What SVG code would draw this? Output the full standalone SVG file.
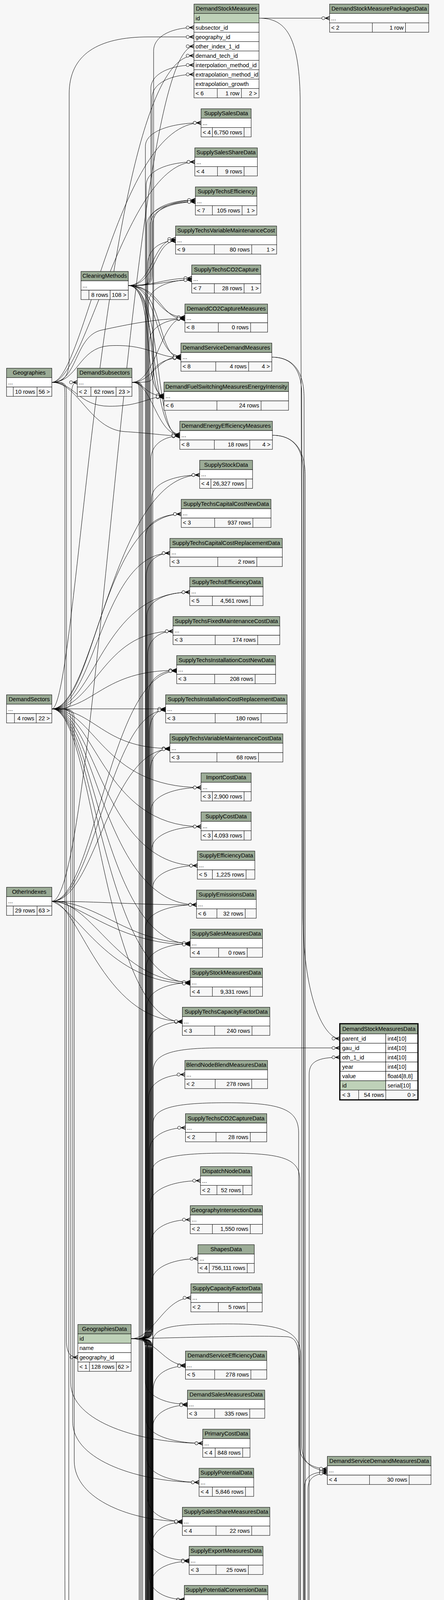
<svg xmlns="http://www.w3.org/2000/svg" width="1136" height="6871" viewBox="0 0 1136 6871">
<style>
text{font-family:"Liberation Sans",Arial,Helvetica,sans-serif;font-size:14.67px;fill:#000}
.c{text-anchor:middle}.n{text-anchor:end}
.h{fill:#9bab96;stroke:#000}.r{fill:#fff;stroke:#000}.p{fill:#bed1b8;stroke:#000}.f{fill:#f7f7f7;stroke:#000}
.d{fill:none;stroke:#000}.b{fill:none;stroke:#000;stroke-width:3}
#edges path{fill:none;stroke:#000;stroke-width:1;marker-end:url(#m)}
</style>
<defs>
<marker id="m" markerUnits="userSpaceOnUse" markerWidth="20" markerHeight="12" refX="19" refY="6" orient="auto" viewBox="0 0 20 12" overflow="visible">
<path d="M8 6L19 1.5M8 6H19M8 6L19 10.5" fill="none" stroke="#000" stroke-width="1.5"/>
<circle cx="3" cy="6" r="4" fill="#fff" stroke="#000"/>
</marker>
</defs>
<rect width="1136" height="6871" fill="#f7f7f7"/>
<g id="edges">
<path d="M662.7 46.5L843.3 46.5"/>
<path d="M662.7 46.5C730 46.5 765 90 768 250L775 2350C778 2560 830 2658.7 869.4 2658.7"/>
<path d="M335.4 3427C392 3427 392 3427 392 3387L392 2742C392 2702 430 2682.7 560 2682.7L869.4 2682.7"/>
<path d="M695.5 914.3C745 914.3 772 945 772 1010L772 3700C772 3745 800 3764 837.5 3764"/>
<path d="M697 1114.3C748 1114.3 776 1145 776 1210L776 5560C776 5605 800 5624 835.3 5624"/>
<path d="M695.5 914.3C750 914.3 778 950 778 1020L778 6110C778 6150 795 6168 821.6 6168"/>
<path d="M697 1114.3C752 1114.3 781 1150 781 1220L781 6235C781 6275 795 6292 820.8 6292"/>
<path d="M335.4 3427C450 3425 650 3418 735 3422C760 3424 766 3450 766 3500L766 3700C766 3742 800 3760 837.5 3760"/>
<path d="M335.4 5194.5C390 5194.5 390 5194.5 390 5154.5L390 3440C390 3405 420 3392 520 3390C700 3386 769 3395 769 3470L769 5560C769 5600 800 5620 835.3 5620"/>
<path d="M335.4 5194.5C391 5194.5 391 5194.5 391 5154.5L391 2880C391 2840 430 2823 580 2823C720 2823 764 2840 764 2900L764 6100C764 6145 795 6164 821.6 6164"/>
<path d="M335.4 3427C389 3427 389 3427 389 3387L389 3000C389 2968 430 2952 580 2952C720 2952 767 2965 767 3020L767 6230C767 6270 795 6288 820.8 6288"/>
<path d="M335.4 3427C377 3427 377 3427 377 3467L377 6397C377 6452 477 6467 572 6467C668 6467 768 6452 768 6397L768 6336C768 6306 790 6296 820.8 6296"/>
<path d="M335.4 5194.5C382 5194.5 382 5194.5 382 5234.5L382 6444C382 6499 482 6514 572 6514C671 6514 771 6499 771 6444L771 6340C771 6310 792 6300 820.8 6300"/>
<path d="M335.4 5194.5C385 5194.5 385 5194.5 385 5234.5L385 6448C385 6503 485 6518 572 6518C674 6518 774 6503 774 6448L774 6212C774 6182 794 6172 821.6 6172"/>
<path d="M335.4 3427C386 3427 386 3427 386 3467L386 6495C386 6550 486 6565 572 6565C676 6565 776 6550 776 6495L776 5670C776 5640 800 5630 835.3 5630"/>
<path d="M335.4 5194.5C389 5194.5 389 5194.5 389 5234.5L389 6500C389 6555 489 6570 572 6570C679 6570 779 6555 779 6500L779 3808C779 3778 802 3768 837.5 3768"/>
<path d="M335.4 3427C388 3427 388 3427 388 3467L388 6534C388 6589 488 6604 572 6604C682 6604 782 6589 782 6534L782 6216C782 6186 800 6176 821.6 6176"/>
<path d="M335.4 5194.5C391 5194.5 391 5194.5 391 5234.5L391 6541C391 6596 491 6611 572 6611C685 6611 785 6596 785 6541L785 5674C785 5644 805 5634 835.3 5634"/>
<path d="M335.4 3427C380 3427 380 3427 380 3467L380 6650C380 6720 500 6795 572 6815C650 6795 788 6720 788 6650L788 3812C788 3782 808 3772 837.5 3772"/>
<path d="M335.4 5194.5C383 5194.5 383 5194.5 383 5234.5L383 6655C383 6725 503 6802 572 6822C653 6802 791 6725 791 6655L791 2750C791 2717 815 2706.7 869.4 2706.7"/>
<path d="M335.4 3427C372 3427 372 3427 372 3387L372 374.5C372 334.5 443 314.5 514.4 314.5"/>
<path d="M335.4 3427C374 3427 374 3427 374 3387L374 474.5C374 434.5 436 414.5 498.4 414.5"/>
<path d="M335.4 3427C376 3427 376 3427 376 3387L376 576C376 536 438 516 499.9 516"/>
<path d="M335.4 3427C378 3427 378 3427 378 3387L378 676C378 636 414 616 449.2 616"/>
<path d="M335.4 3427C380 3427 380 3427 380 3387L380 776C380 736 435 716 490.5 716"/>
<path d="M335.4 3427C382 3427 382 3427 382 3387L382 876C382 836 428 816 473.1 816"/>
<path d="M335.4 3427C384 3427 384 3427 384 3387L384 976C384 936 423 916 462.9 916"/>
<path d="M335.4 3427C386 3427 386 3427 386 3387L386 1176C386 1136 423 1116 460 1116"/>
<path d="M335.4 3427C388 3427 388 3427 388 3387L388 1276C388 1236 449 1216 510.8 1216"/>
<path d="M335.4 3427C372 3427 372 3427 372 3387L372 1376C372 1336 418 1316 463.7 1316"/>
<path d="M335.4 3427C374 3427 374 3427 374 3387L374 1476C374 1436 404 1416 434.7 1416"/>
<path d="M335.4 3427C376 3427 376 3427 376 3387L376 1576C376 1536 431 1516 485.4 1516"/>
<path d="M335.4 3427C378 3427 378 3427 378 3387L378 1676C378 1636 410 1616 442.7 1616"/>
<path d="M335.4 3427C380 3427 380 3427 380 3387L380 1776C380 1736 416 1716 452 1716"/>
<path d="M335.4 3427C382 3427 382 3427 382 3387L382 1876C382 1836 403 1816 423.8 1816"/>
<path d="M335.4 3427C384 3427 384 3427 384 3387L384 1976C384 1936 409 1916 434.7 1916"/>
<path d="M335.4 3427C386 3427 386 3427 386 3387L386 2076C386 2036 450 2016 514.4 2016"/>
<path d="M335.4 3427C388 3427 388 3427 388 3387L388 2176C388 2136 451 2116 514.4 2116"/>
<path d="M335.4 3427C390 3427 390 3427 390 3387L390 2276C390 2236 447 2216 505 2216"/>
<path d="M335.4 3427C372 3427 372 3427 372 3387L372 2376C372 2336 437 2316 502.8 2316"/>
<path d="M335.4 3427C374 3427 374 3427 374 3387L374 2476C374 2436 430 2416 486.8 2416"/>
<path d="M335.4 3427C376 3427 376 3427 376 3387L376 2576C376 2536 431 2516 486.8 2516"/>
<path d="M335.4 3427C378 3427 378 3427 378 3387L378 2676C378 2636 422 2616 466.6 2616"/>
<path d="M335.4 3427C380 3427 380 3427 380 3387L380 2810.8C380 2770.8 426 2750.8 473 2750.8"/>
<path d="M335.4 3427C382 3427 382 3427 382 3387L382 2947C382 2907 428 2887 474.5 2887"/>
<path d="M335.4 3427C384 3427 384 3427 384 3387L384 3082.5C384 3042.5 448 3022.5 513 3022.5"/>
<path d="M335.4 3427C386 3427 386 3427 386 3387L386 3182.4C386 3142.4 436 3122.4 486.8 3122.4"/>
<path d="M335.4 3427C388 3427 388 3427 388 3387L388 3282.4C388 3242.4 447 3222.4 506.4 3222.4"/>
<path d="M335.4 3427C392 3427 420 3322.4 488.3 3322.4"/>
<path d="M335.4 3427C400 3427 420 3494.8 474.5 3494.8"/>
<path d="M335.4 3427C372 3427 372 3427 372 3467L372 3534.8C372 3574.8 426 3594.8 479.6 3594.8"/>
<path d="M335.4 3427C374 3427 374 3427 374 3467L374 3634.8C374 3674.8 446 3694.8 518.7 3694.8"/>
<path d="M335.4 3427C376 3427 376 3427 376 3467L376 3734.8C376 3774.8 443 3794.8 509.3 3794.8"/>
<path d="M335.4 3427C378 3427 378 3427 378 3467L378 3834.7C378 3874.7 422 3894.7 466.6 3894.7"/>
<path d="M335.4 3427C380 3427 380 3427 380 3467L380 3934.7C380 3974.7 432 3994.7 484 3994.7"/>
<path d="M335.4 3427C382 3427 382 3427 382 3467L382 4034.7C382 4074.7 427 4094.7 471.6 4094.7"/>
<path d="M335.4 3427C384 3427 384 3427 384 3467L384 4132C384 4172 430 4192 476 4192"/>
<path d="M335.4 3427C386 3427 386 3427 386 3467L386 4232C386 4272 449 4292 511.5 4292"/>
<path d="M335.4 3427C388 3427 388 3427 388 3467L388 4332C388 4372 414 4392 439 4392"/>
<path d="M335.4 3427C390 3427 390 3427 390 3467L390 4432C390 4472 397 4492 403.5 4492"/>
<path d="M335.4 3427C372 3427 372 3427 372 3467L372 4532C372 4572 402 4592 431.8 4592"/>
<path d="M335.4 3427C374 3427 374 3427 374 3467L374 4632C374 4672 443 4692 511.5 4692"/>
<path d="M335.4 3427C376 3427 376 3427 376 3467L376 4732C376 4772 421 4792 466.6 4792"/>
<path d="M335.4 3427C378 3427 378 3427 378 3467L378 4832C378 4872 418 4892 458.6 4892"/>
<path d="M335.4 3427C380 3427 380 3427 380 3467L380 4932C380 4972 404 4992 428.9 4992"/>
<path d="M335.4 3427C382 3427 382 3427 382 3467L382 5032C382 5072 409 5092 435.4 5092"/>
<path d="M335.4 3427C384 3427 384 3427 384 3467L384 5132C384 5172 421 5192 458.6 5192"/>
<path d="M335.4 3427C386 3427 386 3427 386 3467L386 5232C386 5272 417 5292 447 5292"/>
<path d="M335.4 3427C388 3427 388 3427 388 3467L388 5332C388 5372 403 5392 417.3 5392"/>
<path d="M335.4 3427C390 3427 390 3427 390 3467L390 5432C390 5472 427 5492 463.7 5492"/>
<path d="M335.4 3427C372 3427 372 3427 372 3467L372 5532C372 5572 415 5592 458.6 5592"/>
<path d="M335.4 3427C374 3427 374 3427 374 3467L374 5632C374 5672 404 5692 433.2 5692"/>
<path d="M335.4 3427C376 3427 376 3427 376 3467L376 5732C376 5772 425 5792 473 5792"/>
<path d="M335.4 3427C378 3427 378 3427 378 3467L378 5832C378 5872 405 5892 431.8 5892"/>
<path d="M335.4 3427C380 3427 380 3427 380 3467L380 5932C380 5972 391 5992 402.8 5992"/>
<path d="M335.4 3427C382 3427 382 3427 382 3467L382 6032C382 6072 410 6092 437.6 6092"/>
<path d="M335.4 3427C384 3427 384 3427 384 3467L384 6132C384 6172 396 6192 407.9 6192"/>
<path d="M335.4 3427C386 3427 386 3427 386 3467L386 6232C386 6272 430 6292 474.5 6292"/>
<path d="M335.4 3427C388 3427 388 3427 388 3467L388 6332C388 6372 448 6392 507.9 6392"/>
<path d="M335.4 5194.5C391 5194.5 391 5194.5 391 5154.5L391 573C391 533 445 513 499.9 513"/>
<path d="M335.4 5194.5C392 5194.5 392 5194.5 392 5154.5L392 3557C392 3517 433 3497 474.5 3497"/>
<path d="M335.4 5194.5C390 5194.5 390 5194.5 390 5154.5L390 3657C390 3617 435 3597 479.6 3597"/>
<path d="M335.4 5194.5C388 5194.5 388 5194.5 388 5154.5L388 3957C388 3917 427 3897 466.6 3897"/>
<path d="M335.4 5194.5C386 5194.5 386 5194.5 386 5154.5L386 4057C386 4017 435 3997 484 3997"/>
<path d="M335.4 5194.5C385 5194.5 385 5194.5 385 5154.5L385 4157C385 4117 428 4097 471.6 4097"/>
<path d="M335.4 5194.5C383 5194.5 383 5194.5 383 5154.5L383 4257C383 4217 430 4197 476 4197"/>
<path d="M335.4 5194.5C381 5194.5 381 5194.5 381 5154.5L381 4357C381 4317 446 4297 511.5 4297"/>
<path d="M335.4 5194.5C379 5194.5 379 5194.5 379 5154.5L379 4457C379 4417 409 4397 439 4397"/>
<path d="M335.4 5194.5C377 5194.5 377 5194.5 377 5154.5L377 4455C377 4415 408 4395 439 4395"/>
<path d="M335.4 5194.5C391 5194.5 391 5194.5 391 5154.5L391 4557C391 4517 397 4497 403.5 4497"/>
<path d="M335.4 5194.5C389 5194.5 389 5194.5 389 5154.5L389 4555C389 4515 396 4495 403.5 4495"/>
<path d="M335.4 5194.5C387 5194.5 387 5194.5 387 5154.5L387 4657C387 4617 409 4597 431.8 4597"/>
<path d="M335.4 5194.5C385 5194.5 385 5194.5 385 5154.5L385 4655C385 4615 408 4595 431.8 4595"/>
<path d="M335.4 5194.5C383 5194.5 383 5194.5 383 5154.5L383 4757C383 4717 447 4697 511.5 4697"/>
<path d="M335.4 5194.5C381 5194.5 381 5194.5 381 5154.5L381 4857C381 4817 424 4797 466.6 4797"/>
<path d="M335.4 5194.5C379 5194.5 379 5194.5 379 5154.5L379 4855C379 4815 423 4795 466.6 4795"/>
<path d="M335.4 5194.5C377 5194.5 377 5194.5 377 5154.5L377 4957C377 4917 418 4897 458.6 4897"/>
<path d="M335.4 5194.5C375 5194.5 375 5194.5 375 5154.5L375 4955C375 4915 417 4895 458.6 4895"/>
<path d="M335.4 5194.5C373 5194.5 373 5194.5 373 5154.5L373 5057C373 5017 401 4997 428.9 4997"/>
<path d="M335.4 5194.5C390 5194.5 400 5097 435.4 5097"/>
<path d="M335.4 5194.5C390 5194.5 400 5197 458.6 5197"/>
<path d="M335.4 5194.5C395 5190 410 5190 458.6 5190"/>
<path d="M335.4 5194.5C390 5194.5 400 5297 447 5297"/>
<path d="M335.4 5194.5C392 5194.5 392 5194.5 392 5234.5L392 5337C392 5377 405 5397 417.3 5397"/>
<path d="M335.4 5194.5C390 5194.5 390 5194.5 390 5234.5L390 5335C390 5375 404 5395 417.3 5395"/>
<path d="M335.4 5194.5C388 5194.5 388 5194.5 388 5234.5L388 5437C388 5477 426 5497 463.7 5497"/>
<path d="M335.4 5194.5C386 5194.5 386 5194.5 386 5234.5L386 5435C386 5475 425 5495 463.7 5495"/>
<path d="M335.4 5194.5C384 5194.5 384 5194.5 384 5234.5L384 5537C384 5577 421 5597 458.6 5597"/>
<path d="M335.4 5194.5C382 5194.5 382 5194.5 382 5234.5L382 5535C382 5575 420 5595 458.6 5595"/>
<path d="M335.4 5194.5C380 5194.5 380 5194.5 380 5234.5L380 5637C380 5677 407 5697 433.2 5697"/>
<path d="M335.4 5194.5C378 5194.5 378 5194.5 378 5234.5L378 5737C378 5777 426 5797 473 5797"/>
<path d="M335.4 5194.5C376 5194.5 376 5194.5 376 5234.5L376 5735C376 5775 425 5795 473 5795"/>
<path d="M335.4 5194.5C374 5194.5 374 5194.5 374 5234.5L374 5837C374 5877 403 5897 431.8 5897"/>
<path d="M335.4 5194.5C392 5194.5 392 5194.5 392 5234.5L392 5937C392 5977 397 5997 402.8 5997"/>
<path d="M335.4 5194.5C390 5194.5 390 5194.5 390 5234.5L390 6037C390 6077 414 6097 437.6 6097"/>
<path d="M335.4 5194.5C388 5194.5 388 5194.5 388 5234.5L388 6137C388 6177 398 6197 407.9 6197"/>
<path d="M335.4 5194.5C386 5194.5 386 5194.5 386 5234.5L386 6237C386 6277 430 6297 474.5 6297"/>
<path d="M335.4 5194.5C384 5194.5 384 5194.5 384 5234.5L384 6239C384 6279 429 6299 474.5 6299"/>
<path d="M335.4 5194.5C382 5194.5 382 5194.5 382 5234.5L382 6337C382 6377 445 6397 507.9 6397"/>
<path d="M335.4 5194.5C380 5194.5 380 5194.5 380 5234.5L380 6339C380 6379 444 6399 507.9 6399"/>
<path d="M337.6 978.7C356 978.7 356 978.7 356 1018.7L356 4136C356 4176 416 4196 476 4196"/>
<path d="M337.6 978.7C359 978.7 359 978.7 359 1018.7L359 4236C359 4276 435 4296 511.5 4296"/>
<path d="M337.6 978.7C362 978.7 362 978.7 362 1018.7L362 4636C362 4676 437 4696 511.5 4696"/>
<path d="M337.6 978.7C365 978.7 365 978.7 365 1018.7L365 6236C365 6276 420 6296 474.5 6296"/>
<path d="M337.6 978.7C393 978.7 393 978.7 393 938.7L393 130.5C393 90.5 444 70.5 496.3 70.5"/>
<path d="M337.6 978.7C400 978.7 410 813 473.1 813"/>
<path d="M337.6 978.7C390 978.7 400 913 462.9 913"/>
<path d="M337.6 978.7C370 978.7 370 1013 419.5 1013"/>
<path d="M337.6 978.7C390 978.7 400 1113 460 1113"/>
<path d="M328.2 730.9C386 730.9 386 730.9 386 690.9L386 226.5C386 186.5 441 166.5 496.3 166.5"/>
<path d="M328.2 730.9C389 730.9 389 730.9 389 690.9L389 250.5C389 210.5 443 190.5 496.3 190.5"/>
<path d="M328.2 730.9C381 730.9 381 730.9 381 690.9L381 572C381 532 440 512 499.9 512"/>
<path d="M328.2 730.9C384 730.9 384 730.9 384 690.9L384 577C384 537 442 517 499.9 517"/>
<path d="M328.2 730.9C390 730.9 390 612 449.2 612"/>
<path d="M328.2 730.9C400 730.9 395 617 449.2 617"/>
<path d="M328.2 730.9C400 730.9 420 712 490.5 712"/>
<path d="M328.2 730.9C410 730.9 430 717 490.5 717"/>
<path d="M328.2 730.9C400 730.9 400 812 473.1 812"/>
<path d="M328.2 730.9C410 730.9 410 817 473.1 817"/>
<path d="M328.2 730.9C410 730.9 390 912 462.9 912"/>
<path d="M328.2 730.9C420 730.9 400 917 462.9 917"/>
<path d="M328.2 730.9C400 730.9 360 1012 419.5 1012"/>
<path d="M328.2 730.9C410 730.9 370 1017 419.5 1017"/>
<path d="M328.2 730.9C410 730.9 380 1112 460 1112"/>
<path d="M328.2 730.9C420 730.9 390 1117 460 1117"/>
<path d="M132.6 978.7C165 978.7 177 960 177 920L177 240C177 140 250 94.5 380 94.5L496.3 94.5"/>
<path d="M132.6 978.7C215 978.7 300 314.5 514.4 314.5"/>
<path d="M132.6 978.7C220 978.7 320 414.5 498.4 414.5"/>
<path d="M132.6 978.7C200 978.7 190 860 260 845C330 830 400 815.5 473.1 815.5"/>
<path d="M132.6 978.7C200 978.7 200 890 280 885C380 880 400 915.5 462.9 915.5"/>
<path d="M132.6 978.7C190 978.7 200 1040 280 1040C360 1040 380 1015.5 419.5 1015.5"/>
<path d="M132.6 978.7C200 978.7 230 1100 320 1105C400 1110 420 1115.5 460 1115.5"/>
<path d="M132.6 978.7C170 978.7 170 978.7 170 1018.7L170 3430C170 3465 180 3474.7 199.2 3474.7"/>
<path d="M132.6 978.7C166 978.7 166 978.7 166 1018.7L166 4000C166 5000 228 5800 228 6300C228 6600 186 6700 186 6781C250 6700 400 6686.5 516.6 6686.5"/>
<path d="M132.6 1814.7C182 1814.7 182 1814.7 182 1774.7L182 1030C182 990 186 978.7 197.8 978.7"/>
<path d="M132.6 1814.7C200 1814.7 260 142.5 496.3 142.5"/>
<path d="M132.6 1814.7C243 1814.7 290 1216 510.8 1216"/>
<path d="M132.6 1814.7C243 1814.7 260 1316 463.7 1316"/>
<path d="M132.6 1814.7C243 1814.7 260 1416 434.7 1416"/>
<path d="M132.6 1814.7C243 1814.7 260 1516 485.4 1516"/>
<path d="M132.6 1814.7C243 1814.7 260 1616 442.7 1616"/>
<path d="M132.6 1814.7C243 1814.7 260 1716 452 1716"/>
<path d="M132.6 1814.7L423.8 1814.7"/>
<path d="M132.6 1814.7C243 1814.7 260 1916 434.7 1916"/>
<path d="M132.6 1814.7C243 1814.7 260 2016 514.4 2016"/>
<path d="M132.6 1814.7C243 1814.7 260 2116 514.4 2116"/>
<path d="M132.6 1814.7C243 1814.7 260 2216 505 2216"/>
<path d="M132.6 1814.7C243 1814.7 260 2316 502.8 2316"/>
<path d="M132.6 1814.7C243 1814.7 260 2416 486.8 2416"/>
<path d="M132.6 1814.7C243 1814.7 260 2516 486.8 2516"/>
<path d="M132.6 1814.7C243 1814.7 260 2616 466.6 2616"/>
<path d="M132.6 1814.7C181 1814.7 181 1814.7 181 1854.7L181 3540C181 3640 360 3694.8 518.7 3694.8"/>
<path d="M132.6 1814.7C186 1814.7 186 1814.7 186 1854.7L186 3640C186 3740 360 3794.8 509.3 3794.8"/>
<path d="M132.6 1814.7C190 1814.7 190 1814.7 190 1854.7L190 3740C190 3840 340 3894.7 466.6 3894.7"/>
<path d="M132.6 2307.4C176 2307.4 176 2307.4 176 2347.4L176 5190C176 5230 182 5242.5 199.2 5242.5"/>
<path d="M132.6 2307.4C250 2307.4 330 118.5 496.3 118.5"/>
<path d="M132.6 2307.4C243 2307.4 280 1718 452 1718"/>
<path d="M132.6 2307.4C243 2307.4 280 1818 423.8 1818"/>
<path d="M132.6 2307.4C243 2307.4 280 1918 434.7 1918"/>
<path d="M132.6 2307.4C250 2307.4 350 2316.5 502.8 2316.5"/>
<path d="M132.6 2307.4C250 2307.4 330 2414 486.8 2414"/>
<path d="M132.6 2307.4C200 2307.4 300 2418 486.8 2418"/>
<path d="M132.6 2307.4C240 2307.4 300 2514 486.8 2514"/>
<path d="M132.6 2307.4C200 2330 280 2518 486.8 2518"/>
<path d="M132.6 2307.4C200 2307.4 260 2614.6 466.6 2614.6"/>
</g>
<g id="nodes">
<g id="DemandStockMeasures" transform="translate(496.3 10.5)"><rect class="h" width="166.4" height="24"/><rect class="p" y="24" width="166.4" height="24"/><rect class="r" y="48" width="166.4" height="24"/><rect class="r" y="72" width="166.4" height="24"/><rect class="r" y="96" width="166.4" height="24"/><rect class="r" y="120" width="166.4" height="24"/><rect class="r" y="144" width="166.4" height="24"/><rect class="r" y="168" width="166.4" height="24"/><rect class="r" y="192" width="166.4" height="24"/><rect class="f" y="216" width="166.4" height="24"/><path class="d" d="M59.7 216v24M121.4 216v24"/><text class="c" x="83.2" y="16.5">DemandStockMeasures</text><text x="4" y="41">id</text><text x="4" y="65">subsector_id</text><text x="4" y="89">geography_id</text><text x="4" y="113">other_index_1_id</text><text x="4" y="137">demand_tech_id</text><text x="4" y="161">interpolation_method_id</text><text x="4" y="185">extrapolation_method_id</text><text x="4" y="209">extrapolation_growth</text><text x="4" y="233">&lt; 6</text><text class="n" x="116.4" y="233">1 row</text><text class="n" x="161.4" y="233">2 &gt;</text></g>
<g id="DemandStockMeasurePackagesData" transform="translate(843.3 10.5)"><rect class="h" width="253.6" height="24"/><rect class="r" y="24" width="253.6" height="24"/><rect class="f" y="48" width="253.6" height="24"/><path class="d" d="M109.4 48v24M194.2 48v24"/><text class="c" x="126.8" y="16.5">DemandStockMeasurePackagesData</text><text x="4" y="41">...</text><text x="4" y="65">&lt; 2</text><text class="n" x="189.2" y="65">1 row</text></g>
<g id="SupplySalesData" transform="translate(514.4 278.5)"><rect class="h" width="128.2" height="24"/><rect class="r" y="24" width="128.2" height="24"/><rect class="f" y="48" width="128.2" height="24"/><path class="d" d="M29 48v24M110.1 48v24"/><text class="c" x="64.1" y="16.5">SupplySalesData</text><text x="4" y="41">...</text><text x="4" y="65">&lt; 4</text><text class="n" x="105.1" y="65">6,750 rows</text></g>
<g id="SupplySalesShareData" transform="translate(498.4 378.5)"><rect class="h" width="160.1" height="24"/><rect class="r" y="24" width="160.1" height="24"/><rect class="f" y="48" width="160.1" height="24"/><path class="d" d="M58 48v24M126.1 48v24"/><text class="c" x="80" y="16.5">SupplySalesShareData</text><text x="4" y="41">...</text><text x="4" y="65">&lt; 4</text><text class="n" x="121.1" y="65">9 rows</text></g>
<g id="SupplyTechsEfficiency" transform="translate(499.9 478.5)"><rect class="h" width="157.2" height="24"/><rect class="r" y="24" width="157.2" height="24"/><rect class="f" y="48" width="157.2" height="24"/><path class="d" d="M43.5 48v24M119.5 48v24"/><text class="c" x="78.6" y="16.5">SupplyTechsEfficiency</text><text x="4" y="41">...</text><text x="4" y="65">&lt; 7</text><text class="n" x="114.5" y="65">105 rows</text><text class="n" x="152.2" y="65">1 &gt;</text></g>
<g id="SupplyTechsVariableMaintenanceCost" transform="translate(449.2 578.5)"><rect class="h" width="258.6" height="24"/><rect class="r" y="24" width="258.6" height="24"/><rect class="f" y="48" width="258.6" height="24"/><path class="d" d="M99.2 48v24M194.8 48v24"/><text class="c" x="129.3" y="16.5">SupplyTechsVariableMaintenanceCost</text><text x="4" y="41">...</text><text x="4" y="65">&lt; 9</text><text class="n" x="189.8" y="65">80 rows</text><text class="n" x="253.6" y="65">1 &gt;</text></g>
<g id="CleaningMethods" transform="translate(207.2 694.9)"><rect class="h" width="121" height="24"/><rect class="r" y="24" width="121" height="24"/><rect class="f" y="48" width="121" height="24"/><path class="d" d="M20.3 48v24M74.6 48v24"/><text class="c" x="60.5" y="16.5">CleaningMethods</text><text x="4" y="41">...</text><text class="n" x="69.6" y="65">8 rows</text><text class="n" x="116" y="65">108 &gt;</text></g>
<g id="SupplyTechsCO2Capture" transform="translate(490.5 678.3)"><rect class="h" width="176.7" height="24"/><rect class="r" y="24" width="176.7" height="24"/><rect class="f" y="48" width="176.7" height="24"/><path class="d" d="M57.9 48v24M134 48v24"/><text class="c" x="88.4" y="16.5">SupplyTechsCO2Capture</text><text x="4" y="41">...</text><text x="4" y="65">&lt; 7</text><text class="n" x="129" y="65">28 rows</text><text class="n" x="171.7" y="65">1 &gt;</text></g>
<g id="DemandCO2CaptureMeasures" transform="translate(473.1 778.3)"><rect class="h" width="211.5" height="24"/><rect class="r" y="24" width="211.5" height="24"/><rect class="f" y="48" width="211.5" height="24"/><path class="d" d="M85.5 48v24M168.1 48v24"/><text class="c" x="105.8" y="16.5">DemandCO2CaptureMeasures</text><text x="4" y="41">...</text><text x="4" y="65">&lt; 8</text><text class="n" x="163.1" y="65">0 rows</text></g>
<g id="DemandServiceDemandMeasures" transform="translate(462.9 878.3)"><rect class="h" width="232.6" height="24"/><rect class="r" y="24" width="232.6" height="24"/><rect class="f" y="48" width="232.6" height="24"/><path class="d" d="M89.1 48v24M173.2 48v24"/><text class="c" x="116.3" y="16.5">DemandServiceDemandMeasures</text><text x="4" y="41">...</text><text x="4" y="65">&lt; 8</text><text class="n" x="168.2" y="65">4 rows</text><text class="n" x="227.6" y="65">4 &gt;</text></g>
<g id="Geographies" transform="translate(16.7 942.7)"><rect class="h" width="115.9" height="24"/><rect class="r" y="24" width="115.9" height="24"/><rect class="f" y="48" width="115.9" height="24"/><path class="d" d="M17.3 48v24M78.2 48v24"/><text class="c" x="58" y="16.5">Geographies</text><text x="4" y="41">...</text><text class="n" x="73.2" y="65">10 rows</text><text class="n" x="110.9" y="65">56 &gt;</text></g>
<g id="DemandSubsectors" transform="translate(197.8 942.7)"><rect class="h" width="139.8" height="24"/><rect class="r" y="24" width="139.8" height="24"/><rect class="f" y="48" width="139.8" height="24"/><path class="d" d="M34.8 48v24M99.2 48v24"/><text class="c" x="69.9" y="16.5">DemandSubsectors</text><text x="4" y="41">...</text><text x="4" y="65">&lt; 2</text><text class="n" x="94.2" y="65">62 rows</text><text class="n" x="134.8" y="65">23 &gt;</text></g>
<g id="DemandFuelSwitchingMeasuresEnergyIntensity" transform="translate(419.5 978.3)"><rect class="h" width="318.7" height="24"/><rect class="r" y="24" width="318.7" height="24"/><rect class="f" y="48" width="318.7" height="24"/><path class="d" d="M135.5 48v24M248.5 48v24"/><text class="c" x="159.4" y="16.5">DemandFuelSwitchingMeasuresEnergyIntensity</text><text x="4" y="41">...</text><text x="4" y="65">&lt; 6</text><text class="n" x="243.5" y="65">24 rows</text></g>
<g id="DemandEnergyEfficiencyMeasures" transform="translate(460 1078.3)"><rect class="h" width="237" height="24"/><rect class="r" y="24" width="237" height="24"/><rect class="f" y="48" width="237" height="24"/><path class="d" d="M88.4 48v24M179 48v24"/><text class="c" x="118.5" y="16.5">DemandEnergyEfficiencyMeasures</text><text x="4" y="41">...</text><text x="4" y="65">&lt; 8</text><text class="n" x="174" y="65">18 rows</text><text class="n" x="232" y="65">4 &gt;</text></g>
<g id="SupplyStockData" transform="translate(510.8 1178.3)"><rect class="h" width="135.4" height="24"/><rect class="r" y="24" width="135.4" height="24"/><rect class="f" y="48" width="135.4" height="24"/><path class="d" d="M28.9 48v24M118.8 48v24"/><text class="c" x="67.7" y="16.5">SupplyStockData</text><text x="4" y="41">...</text><text x="4" y="65">&lt; 4</text><text class="n" x="113.8" y="65">26,327 rows</text></g>
<g id="SupplyTechsCapitalCostNewData" transform="translate(463.7 1278.3)"><rect class="h" width="229.6" height="24"/><rect class="r" y="24" width="229.6" height="24"/><rect class="f" y="48" width="229.6" height="24"/><path class="d" d="M85.5 48v24M183.3 48v24"/><text class="c" x="114.8" y="16.5">SupplyTechsCapitalCostNewData</text><text x="4" y="41">...</text><text x="4" y="65">&lt; 3</text><text class="n" x="178.3" y="65">937 rows</text></g>
<g id="SupplyTechsCapitalCostReplacementData" transform="translate(434.7 1378.3)"><rect class="h" width="287.6" height="24"/><rect class="r" y="24" width="287.6" height="24"/><rect class="f" y="48" width="287.6" height="24"/><path class="d" d="M122.4 48v24M222.4 48v24"/><text class="c" x="143.8" y="16.5">SupplyTechsCapitalCostReplacementData</text><text x="4" y="41">...</text><text x="4" y="65">&lt; 3</text><text class="n" x="217.4" y="65">2 rows</text></g>
<g id="SupplyTechsEfficiencyData" transform="translate(485.4 1478.3)"><rect class="h" width="187.6" height="24"/><rect class="r" y="24" width="187.6" height="24"/><rect class="f" y="48" width="187.6" height="24"/><path class="d" d="M58 48v24M155 48v24"/><text class="c" x="93.8" y="16.5">SupplyTechsEfficiencyData</text><text x="4" y="41">...</text><text x="4" y="65">&lt; 5</text><text class="n" x="150" y="65">4,561 rows</text></g>
<g id="SupplyTechsFixedMaintenanceCostData" transform="translate(442.7 1578.3)"><rect class="h" width="273.1" height="24"/><rect class="r" y="24" width="273.1" height="24"/><rect class="f" y="48" width="273.1" height="24"/><path class="d" d="M107.9 48v24M216.6 48v24"/><text class="c" x="136.6" y="16.5">SupplyTechsFixedMaintenanceCostData</text><text x="4" y="41">...</text><text x="4" y="65">&lt; 3</text><text class="n" x="211.6" y="65">174 rows</text></g>
<g id="SupplyTechsInstallationCostNewData" transform="translate(452 1678.3)"><rect class="h" width="253" height="24"/><rect class="r" y="24" width="253" height="24"/><rect class="f" y="48" width="253" height="24"/><path class="d" d="M97.2 48v24M200.8 48v24"/><text class="c" x="126.5" y="16.5">SupplyTechsInstallationCostNewData</text><text x="4" y="41">...</text><text x="4" y="65">&lt; 3</text><text class="n" x="195.8" y="65">208 rows</text></g>
<g id="DemandSectors" transform="translate(16.7 1778.7)"><rect class="h" width="115.9" height="24"/><rect class="r" y="24" width="115.9" height="24"/><rect class="f" y="48" width="115.9" height="24"/><path class="d" d="M20.3 48v24M76 48v24"/><text class="c" x="58" y="16.5">DemandSectors</text><text x="4" y="41">...</text><text class="n" x="71" y="65">4 rows</text><text class="n" x="110.9" y="65">22 &gt;</text></g>
<g id="SupplyTechsInstallationCostReplacementData" transform="translate(423.8 1778.7)"><rect class="h" width="310.8" height="24"/><rect class="r" y="24" width="310.8" height="24"/><rect class="f" y="48" width="310.8" height="24"/><path class="d" d="M126.8 48v24M244.2 48v24"/><text class="c" x="155.4" y="16.5">SupplyTechsInstallationCostReplacementData</text><text x="4" y="41">...</text><text x="4" y="65">&lt; 3</text><text class="n" x="239.2" y="65">180 rows</text></g>
<g id="SupplyTechsVariableMaintenanceCostData" transform="translate(434.7 1878.7)"><rect class="h" width="289.1" height="24"/><rect class="r" y="24" width="289.1" height="24"/><rect class="f" y="48" width="289.1" height="24"/><path class="d" d="M120.3 48v24M226.7 48v24"/><text class="c" x="144.6" y="16.5">SupplyTechsVariableMaintenanceCostData</text><text x="4" y="41">...</text><text x="4" y="65">&lt; 3</text><text class="n" x="221.7" y="65">68 rows</text></g>
<g id="ImportCostData" transform="translate(514.4 1978.7)"><rect class="h" width="128.2" height="24"/><rect class="r" y="24" width="128.2" height="24"/><rect class="f" y="48" width="128.2" height="24"/><path class="d" d="M29 48v24M110.1 48v24"/><text class="c" x="64.1" y="16.5">ImportCostData</text><text x="4" y="41">...</text><text x="4" y="65">&lt; 3</text><text class="n" x="105.1" y="65">2,900 rows</text></g>
<g id="SupplyCostData" transform="translate(514.4 2078.7)"><rect class="h" width="128.2" height="24"/><rect class="r" y="24" width="128.2" height="24"/><rect class="f" y="48" width="128.2" height="24"/><path class="d" d="M29 48v24M110.1 48v24"/><text class="c" x="64.1" y="16.5">SupplyCostData</text><text x="4" y="41">...</text><text x="4" y="65">&lt; 3</text><text class="n" x="105.1" y="65">4,093 rows</text></g>
<g id="SupplyEfficiencyData" transform="translate(505 2178.7)"><rect class="h" width="147" height="24"/><rect class="r" y="24" width="147" height="24"/><rect class="f" y="48" width="147" height="24"/><path class="d" d="M38.4 48v24M124.6 48v24"/><text class="c" x="73.5" y="16.5">SupplyEfficiencyData</text><text x="4" y="41">...</text><text x="4" y="65">&lt; 5</text><text class="n" x="119.6" y="65">1,225 rows</text></g>
<g id="OtherIndexes" transform="translate(16.7 2271.4)"><rect class="h" width="115.9" height="24"/><rect class="r" y="24" width="115.9" height="24"/><rect class="f" y="48" width="115.9" height="24"/><path class="d" d="M17.3 48v24M78.2 48v24"/><text class="c" x="58" y="16.5">OtherIndexes</text><text x="4" y="41">...</text><text class="n" x="73.2" y="65">29 rows</text><text class="n" x="110.9" y="65">63 &gt;</text></g>
<g id="SupplyEmissionsData" transform="translate(502.8 2278.6)"><rect class="h" width="152.8" height="24"/><rect class="r" y="24" width="152.8" height="24"/><rect class="f" y="48" width="152.8" height="24"/><path class="d" d="M52.2 48v24M124.6 48v24"/><text class="c" x="76.4" y="16.5">SupplyEmissionsData</text><text x="4" y="41">...</text><text x="4" y="65">&lt; 6</text><text class="n" x="119.6" y="65">32 rows</text></g>
<g id="SupplySalesMeasuresData" transform="translate(486.8 2378.6)"><rect class="h" width="184.8" height="24"/><rect class="r" y="24" width="184.8" height="24"/><rect class="f" y="48" width="184.8" height="24"/><path class="d" d="M72.5 48v24M145.7 48v24"/><text class="c" x="92.4" y="16.5">SupplySalesMeasuresData</text><text x="4" y="41">...</text><text x="4" y="65">&lt; 4</text><text class="n" x="140.7" y="65">0 rows</text></g>
<g id="SupplyStockMeasuresData" transform="translate(486.8 2478.6)"><rect class="h" width="184.8" height="24"/><rect class="r" y="24" width="184.8" height="24"/><rect class="f" y="48" width="184.8" height="24"/><path class="d" d="M56.6 48v24M153.6 48v24"/><text class="c" x="92.4" y="16.5">SupplyStockMeasuresData</text><text x="4" y="41">...</text><text x="4" y="65">&lt; 4</text><text class="n" x="148.6" y="65">9,331 rows</text></g>
<g id="SupplyTechsCapacityFactorData" transform="translate(466.6 2578.6)"><rect class="h" width="223.8" height="24"/><rect class="r" y="24" width="223.8" height="24"/><rect class="f" y="48" width="223.8" height="24"/><path class="d" d="M82.6 48v24M178.2 48v24"/><text class="c" x="111.9" y="16.5">SupplyTechsCapacityFactorData</text><text x="4" y="41">...</text><text x="4" y="65">&lt; 3</text><text class="n" x="173.2" y="65">240 rows</text></g>
<g id="DemandStockMeasuresData" transform="translate(869.4 2620.7)"><rect class="h" width="200" height="26"/><rect class="r" y="26" width="117.6" height="24"/><rect class="r" x="117.6" y="26" width="82.4" height="24"/><rect class="r" y="50" width="117.6" height="24"/><rect class="r" x="117.6" y="50" width="82.4" height="24"/><rect class="r" y="74" width="117.6" height="24"/><rect class="r" x="117.6" y="74" width="82.4" height="24"/><rect class="r" y="98" width="117.6" height="24"/><rect class="r" x="117.6" y="98" width="82.4" height="24"/><rect class="r" y="122" width="117.6" height="24"/><rect class="r" x="117.6" y="122" width="82.4" height="24"/><rect class="p" y="146" width="117.6" height="24"/><rect class="r" x="117.6" y="146" width="82.4" height="24"/><rect class="f" y="170" width="200" height="25"/><path class="d" d="M48.3 170v25M117.6 170v25"/><rect class="b" width="200" height="195"/><text class="c" x="100" y="18">DemandStockMeasuresData</text><text x="6" y="43">parent_id</text><text x="122" y="43">int4[10]</text><text x="6" y="67">gau_id</text><text x="122" y="67">int4[10]</text><text x="6" y="91">oth_1_id</text><text x="122" y="91">int4[10]</text><text x="6" y="115">year</text><text x="122" y="115">int4[10]</text><text x="6" y="139">value</text><text x="122" y="139">float4[8,8]</text><text x="6" y="163">id</text><text x="122" y="163">serial[10]</text><text x="6" y="187">&lt; 3</text><text class="n" x="113" y="187">54 rows</text><text class="n" x="194" y="187">0 &gt;</text></g>
<g id="BlendNodeBlendMeasuresData" transform="translate(473 2714.8)"><rect class="h" width="211.6" height="24"/><rect class="r" y="24" width="211.6" height="24"/><rect class="f" y="48" width="211.6" height="24"/><path class="d" d="M77.6 48v24M171 48v24"/><text class="c" x="105.8" y="16.5">BlendNodeBlendMeasuresData</text><text x="4" y="41">...</text><text x="4" y="65">&lt; 2</text><text class="n" x="166" y="65">278 rows</text></g>
<g id="SupplyTechsCO2CaptureData" transform="translate(474.5 2851)"><rect class="h" width="208" height="24"/><rect class="r" y="24" width="208" height="24"/><rect class="f" y="48" width="208" height="24"/><path class="d" d="M78.3 48v24M165.9 48v24"/><text class="c" x="104" y="16.5">SupplyTechsCO2CaptureData</text><text x="4" y="41">...</text><text x="4" y="65">&lt; 2</text><text class="n" x="160.9" y="65">28 rows</text></g>
<g id="DispatchNodeData" transform="translate(513 2986.5)"><rect class="h" width="131.8" height="24"/><rect class="r" y="24" width="131.8" height="24"/><rect class="f" y="48" width="131.8" height="24"/><path class="d" d="M42 48v24M108.6 48v24"/><text class="c" x="65.9" y="16.5">DispatchNodeData</text><text x="4" y="41">...</text><text x="4" y="65">&lt; 2</text><text class="n" x="103.6" y="65">52 rows</text></g>
<g id="GeographyIntersectionData" transform="translate(486.8 3086.4)"><rect class="h" width="184.8" height="24"/><rect class="r" y="24" width="184.8" height="24"/><rect class="f" y="48" width="184.8" height="24"/><path class="d" d="M56.6 48v24M153.6 48v24"/><text class="c" x="92.4" y="16.5">GeographyIntersectionData</text><text x="4" y="41">...</text><text x="4" y="65">&lt; 2</text><text class="n" x="148.6" y="65">1,550 rows</text></g>
<g id="ShapesData" transform="translate(506.4 3186.4)"><rect class="h" width="144.2" height="24"/><rect class="r" y="24" width="144.2" height="24"/><rect class="f" y="48" width="144.2" height="24"/><path class="d" d="M29 48v24M126.1 48v24"/><text class="c" x="72.1" y="16.5">ShapesData</text><text x="4" y="41">...</text><text x="4" y="65">&lt; 4</text><text class="n" x="121.1" y="65">756,111 rows</text></g>
<g id="SupplyCapacityFactorData" transform="translate(488.3 3286.4)"><rect class="h" width="182.6" height="24"/><rect class="r" y="24" width="182.6" height="24"/><rect class="f" y="48" width="182.6" height="24"/><path class="d" d="M70.3 48v24M144.2 48v24"/><text class="c" x="91.3" y="16.5">SupplyCapacityFactorData</text><text x="4" y="41">...</text><text x="4" y="65">&lt; 2</text><text class="n" x="139.2" y="65">5 rows</text></g>
<g id="GeographiesData" transform="translate(199.2 3390.7)"><rect class="h" width="136.2" height="24"/><rect class="p" y="24" width="136.2" height="24"/><rect class="r" y="48" width="136.2" height="24"/><rect class="r" y="72" width="136.2" height="24"/><rect class="f" y="96" width="136.2" height="24"/><path class="d" d="M29.7 96v24M98.6 96v24"/><text class="c" x="68.1" y="16.5">GeographiesData</text><text x="4" y="41">id</text><text x="4" y="65">name</text><text x="4" y="89">geography_id</text><text x="4" y="113">&lt; 1</text><text class="n" x="93.6" y="113">128 rows</text><text class="n" x="131.2" y="113">62 &gt;</text></g>
<g id="DemandServiceEfficiencyData" transform="translate(474.5 3458.8)"><rect class="h" width="208" height="24"/><rect class="r" y="24" width="208" height="24"/><rect class="f" y="48" width="208" height="24"/><path class="d" d="M74.7 48v24M167.4 48v24"/><text class="c" x="104" y="16.5">DemandServiceEfficiencyData</text><text x="4" y="41">...</text><text x="4" y="65">&lt; 5</text><text class="n" x="162.4" y="65">278 rows</text></g>
<g id="DemandSalesMeasuresData" transform="translate(479.6 3558.8)"><rect class="h" width="197.8" height="24"/><rect class="r" y="24" width="197.8" height="24"/><rect class="f" y="48" width="197.8" height="24"/><path class="d" d="M69.6 48v24M159.4 48v24"/><text class="c" x="98.9" y="16.5">DemandSalesMeasuresData</text><text x="4" y="41">...</text><text x="4" y="65">&lt; 3</text><text class="n" x="154.4" y="65">335 rows</text></g>
<g id="PrimaryCostData" transform="translate(518.7 3658.8)"><rect class="h" width="121" height="24"/><rect class="r" y="24" width="121" height="24"/><rect class="f" y="48" width="121" height="24"/><path class="d" d="M31.9 48v24M102.2 48v24"/><text class="c" x="60.5" y="16.5">PrimaryCostData</text><text x="4" y="41">...</text><text x="4" y="65">&lt; 4</text><text class="n" x="97.2" y="65">848 rows</text></g>
<g id="DemandServiceDemandMeasuresData" transform="translate(837.5 3728.3)"><rect class="h" width="265.2" height="24"/><rect class="r" y="24" width="265.2" height="24"/><rect class="f" y="48" width="265.2" height="24"/><path class="d" d="M107.9 48v24M209.4 48v24"/><text class="c" x="132.6" y="16.5">DemandServiceDemandMeasuresData</text><text x="4" y="41">...</text><text x="4" y="65">&lt; 4</text><text class="n" x="204.4" y="65">30 rows</text></g>
<g id="SupplyPotentialData" transform="translate(509.3 3758.8)"><rect class="h" width="139.8" height="24"/><rect class="r" y="24" width="139.8" height="24"/><rect class="f" y="48" width="139.8" height="24"/><path class="d" d="M34.1 48v24M118.8 48v24"/><text class="c" x="69.9" y="16.5">SupplyPotentialData</text><text x="4" y="41">...</text><text x="4" y="65">&lt; 4</text><text class="n" x="113.8" y="65">5,846 rows</text></g>
<g id="SupplySalesShareMeasuresData" transform="translate(466.6 3858.7)"><rect class="h" width="223.8" height="24"/><rect class="r" y="24" width="223.8" height="24"/><rect class="f" y="48" width="223.8" height="24"/><path class="d" d="M86.2 48v24M177.4 48v24"/><text class="c" x="111.9" y="16.5">SupplySalesShareMeasuresData</text><text x="4" y="41">...</text><text x="4" y="65">&lt; 4</text><text class="n" x="172.4" y="65">22 rows</text></g>
<g id="SupplyExportMeasuresData" transform="translate(484 3958.7)"><rect class="h" width="189" height="24"/><rect class="r" y="24" width="189" height="24"/><rect class="f" y="48" width="189" height="24"/><path class="d" d="M68.8 48v24M151.4 48v24"/><text class="c" x="94.5" y="16.5">SupplyExportMeasuresData</text><text x="4" y="41">...</text><text x="4" y="65">&lt; 3</text><text class="n" x="146.4" y="65">25 rows</text></g>
<g id="SupplyPotentialConversionData" transform="translate(471.6 4058.7)"><rect class="h" width="213.8" height="24"/><rect class="r" y="24" width="213.8" height="24"/><rect class="f" y="48" width="213.8" height="24"/><path class="d" d="M81.2 48v24M169.6 48v24"/><text class="c" x="106.9" y="16.5">SupplyPotentialConversionData</text><text x="4" y="41">...</text><text x="4" y="65">&lt; 3</text><text class="n" x="164.6" y="65">33 rows</text></g>
<g id="DemandEnergyDemandsData" transform="translate(476 4158.7)"><rect class="h" width="205" height="24"/><rect class="r" y="24" width="205" height="24"/><rect class="f" y="48" width="205" height="24"/><path class="d" d="M63.7 48v24M171 48v24"/><text class="c" x="102.5" y="16.5">DemandEnergyDemandsData</text><text x="4" y="41">...</text><text x="4" y="65">&lt; 5</text><text class="n" x="166" y="65">94,945 rows</text></g>
<g id="DemandStockData" transform="translate(511.5 4258.7)"><rect class="h" width="133.3" height="24"/><rect class="r" y="24" width="133.3" height="24"/><rect class="f" y="48" width="133.3" height="24"/><path class="d" d="M31.9 48v24M115.9 48v24"/><text class="c" x="66.7" y="16.5">DemandStockData</text><text x="4" y="41">...</text><text x="4" y="65">&lt; 5</text><text class="n" x="110.9" y="65">1,687 rows</text></g>
<g id="DemandFuelSwitchingMeasuresCostData" transform="translate(439 4358.6)"><rect class="h" width="280.4" height="24"/><rect class="r" y="24" width="280.4" height="24"/><rect class="f" y="48" width="280.4" height="24"/><path class="d" d="M124 48v24M216 48v24"/><text class="c" x="140.2" y="16.5">DemandFuelSwitchingMeasuresCostData</text><text x="4" y="41">...</text><text x="4" y="65">&lt; 4</text><text class="n" x="211" y="65">1 row</text></g>
<g id="DemandFuelSwitchingMeasuresEnergyIntensityData" transform="translate(403.5 4458.6)"><rect class="h" width="350" height="24"/><rect class="r" y="24" width="350" height="24"/><rect class="f" y="48" width="350" height="24"/><path class="d" d="M150 48v24M271 48v24"/><text class="c" x="175" y="16.5">DemandFuelSwitchingMeasuresEnergyIntensityData</text><text x="4" y="41">...</text><text x="4" y="65">&lt; 4</text><text class="n" x="266" y="65">25 rows</text></g>
<g id="DemandFuelSwitchingMeasuresImpactData" transform="translate(431.8 4558.6)"><rect class="h" width="294.9" height="24"/><rect class="r" y="24" width="294.9" height="24"/><rect class="f" y="48" width="294.9" height="24"/><path class="d" d="M123.2 48v24M231.1 48v24"/><text class="c" x="147.5" y="16.5">DemandFuelSwitchingMeasuresImpactData</text><text x="4" y="41">...</text><text x="4" y="65">&lt; 4</text><text class="n" x="226.1" y="65">51 rows</text></g>
<g id="DemandSalesData" transform="translate(511.5 4658.6)"><rect class="h" width="133.3" height="24"/><rect class="r" y="24" width="133.3" height="24"/><rect class="f" y="48" width="133.3" height="24"/><path class="d" d="M31.9 48v24M115.9 48v24"/><text class="c" x="66.7" y="16.5">DemandSalesData</text><text x="4" y="41">...</text><text x="4" y="65">&lt; 5</text><text class="n" x="110.9" y="65">3,319 rows</text></g>
<g id="DemandTechsAuxEfficiencyData" transform="translate(466.6 4758.6)"><rect class="h" width="223.8" height="24"/><rect class="r" y="24" width="223.8" height="24"/><rect class="f" y="48" width="223.8" height="24"/><path class="d" d="M82.6 48v24M178.2 48v24"/><text class="c" x="111.9" y="16.5">DemandTechsAuxEfficiencyData</text><text x="4" y="41">...</text><text x="4" y="65">&lt; 4</text><text class="n" x="173.2" y="65">101 rows</text></g>
<g id="DemandTechsCapitalCostNewData" transform="translate(458.6 4858.6)"><rect class="h" width="241.2" height="24"/><rect class="r" y="24" width="241.2" height="24"/><rect class="f" y="48" width="241.2" height="24"/><path class="d" d="M84.8 48v24M194.2 48v24"/><text class="c" x="120.6" y="16.5">DemandTechsCapitalCostNewData</text><text x="4" y="41">...</text><text x="4" y="65">&lt; 4</text><text class="n" x="189.2" y="65">1,337 rows</text></g>
<g id="DemandTechsCapitalCostReplacementData" transform="translate(428.9 4958.5)"><rect class="h" width="299.9" height="24"/><rect class="r" y="24" width="299.9" height="24"/><rect class="f" y="48" width="299.9" height="24"/><path class="d" d="M129.7 48v24M232.5 48v24"/><text class="c" x="150" y="16.5">DemandTechsCapitalCostReplacementData</text><text x="4" y="41">...</text><text x="4" y="65">&lt; 4</text><text class="n" x="227.5" y="65">0 rows</text></g>
<g id="DemandTechsFixedMaintenanceCostData" transform="translate(435.4 5058.5)"><rect class="h" width="286.2" height="24"/><rect class="r" y="24" width="286.2" height="24"/><rect class="f" y="48" width="286.2" height="24"/><path class="d" d="M113.8 48v24M226 48v24"/><text class="c" x="143.1" y="16.5">DemandTechsFixedMaintenanceCostData</text><text x="4" y="41">...</text><text x="4" y="65">&lt; 4</text><text class="n" x="221" y="65">364 rows</text></g>
<g id="OtherIndexesData" transform="translate(199.2 5158.5)"><rect class="h" width="136.2" height="24"/><rect class="p" y="24" width="136.2" height="24"/><rect class="r" y="48" width="136.2" height="24"/><rect class="r" y="72" width="136.2" height="24"/><rect class="f" y="96" width="136.2" height="24"/><path class="d" d="M29.7 96v24M98.6 96v24"/><text class="c" x="68.1" y="16.5">OtherIndexesData</text><text x="4" y="41">id</text><text x="4" y="65">name</text><text x="4" y="89">other_index_id</text><text x="4" y="113">&lt; 1</text><text class="n" x="93.6" y="113">163 rows</text><text class="n" x="131.2" y="113">67 &gt;</text></g>
<g id="DemandTechsFuelSwitchCostData" transform="translate(458.6 5158.5)"><rect class="h" width="239.8" height="24"/><rect class="r" y="24" width="239.8" height="24"/><rect class="f" y="48" width="239.8" height="24"/><path class="d" d="M94.2 48v24M189.8 48v24"/><text class="c" x="119.9" y="16.5">DemandTechsFuelSwitchCostData</text><text x="4" y="41">...</text><text x="4" y="65">&lt; 4</text><text class="n" x="184.8" y="65">20 rows</text></g>
<g id="DemandTechsInstallationCostNewData" transform="translate(447 5258.5)"><rect class="h" width="264.4" height="24"/><rect class="r" y="24" width="264.4" height="24"/><rect class="f" y="48" width="264.4" height="24"/><path class="d" d="M103.6 48v24M210.1 48v24"/><text class="c" x="132.2" y="16.5">DemandTechsInstallationCostNewData</text><text x="4" y="41">...</text><text x="4" y="65">&lt; 4</text><text class="n" x="205.1" y="65">251 rows</text></g>
<g id="DemandTechsInstallationCostReplacementData" transform="translate(417.3 5358.4)"><rect class="h" width="322.4" height="24"/><rect class="r" y="24" width="322.4" height="24"/><rect class="f" y="48" width="322.4" height="24"/><path class="d" d="M139.8 48v24M249.2 48v24"/><text class="c" x="161.2" y="16.5">DemandTechsInstallationCostReplacementData</text><text x="4" y="41">...</text><text x="4" y="65">&lt; 4</text><text class="n" x="244.2" y="65">0 rows</text></g>
<g id="DemandTechsMainEfficiencyData" transform="translate(463.7 5458.4)"><rect class="h" width="229.6" height="24"/><rect class="r" y="24" width="229.6" height="24"/><rect class="f" y="48" width="229.6" height="24"/><path class="d" d="M79.7 48v24M186.9 48v24"/><text class="c" x="114.8" y="16.5">DemandTechsMainEfficiencyData</text><text x="4" y="41">...</text><text x="4" y="65">&lt; 4</text><text class="n" x="181.9" y="65">1,784 rows</text></g>
<g id="DemandTechsParasiticEnergyData" transform="translate(458.6 5558.4)"><rect class="h" width="239.8" height="24"/><rect class="r" y="24" width="239.8" height="24"/><rect class="f" y="48" width="239.8" height="24"/><path class="d" d="M94.2 48v24M189.8 48v24"/><text class="c" x="119.9" y="16.5">DemandTechsParasiticEnergyData</text><text x="4" y="41">...</text><text x="4" y="65">&lt; 5</text><text class="n" x="184.8" y="65">21 rows</text></g>
<g id="DemandEnergyEfficiencyMeasuresData" transform="translate(835.3 5591.7)"><rect class="h" width="269.5" height="24"/><rect class="r" y="24" width="269.5" height="24"/><rect class="f" y="48" width="269.5" height="24"/><path class="d" d="M109.4 48v24M210.1 48v24"/><text class="c" x="134.8" y="16.5">DemandEnergyEfficiencyMeasuresData</text><text x="4" y="41">...</text><text x="4" y="65">&lt; 5</text><text class="n" x="205.1" y="65">54 rows</text></g>
<g id="DemandTechsServiceDemandModifierData" transform="translate(433.2 5658.4)"><rect class="h" width="292" height="24"/><rect class="r" y="24" width="292" height="24"/><rect class="f" y="48" width="292" height="24"/><path class="d" d="M126.1 48v24M227.5 48v24"/><text class="c" x="146" y="16.5">DemandTechsServiceDemandModifierData</text><text x="4" y="41">...</text><text x="4" y="65">&lt; 4</text><text class="n" x="222.5" y="65">5 rows</text></g>
<g id="DemandTechsServiceLinkData" transform="translate(473 5758.4)"><rect class="h" width="212.4" height="24"/><rect class="r" y="24" width="212.4" height="24"/><rect class="f" y="48" width="212.4" height="24"/><path class="d" d="M77.6 48v24M171 48v24"/><text class="c" x="106.2" y="16.5">DemandTechsServiceLinkData</text><text x="4" y="41">...</text><text x="4" y="65">&lt; 4</text><text class="n" x="166" y="65">740 rows</text></g>
<g id="StorageTechsCapacityCapitalCostNewData" transform="translate(431.8 5858.3)"><rect class="h" width="293.4" height="24"/><rect class="r" y="24" width="293.4" height="24"/><rect class="f" y="48" width="293.4" height="24"/><path class="d" d="M125.3 48v24M227.5 48v24"/><text class="c" x="146.7" y="16.5">StorageTechsCapacityCapitalCostNewData</text><text x="4" y="41">...</text><text x="4" y="65">&lt; 4</text><text class="n" x="222.5" y="65">2 rows</text></g>
<g id="StorageTechsCapacityCapitalCostReplacementData" transform="translate(402.8 5958.3)"><rect class="h" width="352.1" height="24"/><rect class="r" y="24" width="352.1" height="24"/><rect class="f" y="48" width="352.1" height="24"/><path class="d" d="M154.3 48v24M270.2 48v24"/><text class="c" x="176.1" y="16.5">StorageTechsCapacityCapitalCostReplacementData</text><text x="4" y="41">...</text><text x="4" y="65">&lt; 4</text><text class="n" x="265.2" y="65">0 rows</text></g>
<g id="StorageTechsEnergyCapitalCostNewData" transform="translate(437.6 6058.3)"><rect class="h" width="282.5" height="24"/><rect class="r" y="24" width="282.5" height="24"/><rect class="f" y="48" width="282.5" height="24"/><path class="d" d="M119.5 48v24M218.8 48v24"/><text class="c" x="141.3" y="16.5">StorageTechsEnergyCapitalCostNewData</text><text x="4" y="41">...</text><text x="4" y="65">&lt; 4</text><text class="n" x="213.8" y="65">9 rows</text></g>
<g id="DemandServiceDemandMeasuresCostData" transform="translate(821.6 6132.9)"><rect class="h" width="297.7" height="24"/><rect class="r" y="24" width="297.7" height="24"/><rect class="f" y="48" width="297.7" height="24"/><path class="d" d="M127.5 48v24M228.9 48v24"/><text class="c" x="148.9" y="16.5">DemandServiceDemandMeasuresCostData</text><text x="4" y="41">...</text><text x="4" y="65">&lt; 4</text><text class="n" x="223.9" y="65">0 rows</text></g>
<g id="StorageTechsEnergyCapitalCostReplacementData" transform="translate(407.9 6158.3)"><rect class="h" width="341.2" height="24"/><rect class="r" y="24" width="341.2" height="24"/><rect class="f" y="48" width="341.2" height="24"/><path class="d" d="M149.2 48v24M263 48v24"/><text class="c" x="170.6" y="16.5">StorageTechsEnergyCapitalCostReplacementData</text><text x="4" y="41">...</text><text x="4" y="65">&lt; 4</text><text class="n" x="258" y="65">0 rows</text></g>
<g id="DemandServiceDemandsData" transform="translate(474.5 6258.2)"><rect class="h" width="209.4" height="24"/><rect class="r" y="24" width="209.4" height="24"/><rect class="f" y="48" width="209.4" height="24"/><path class="d" d="M68.9 48v24M170.3 48v24"/><text class="c" x="104.7" y="16.5">DemandServiceDemandsData</text><text x="4" y="41">...</text><text x="4" y="65">&lt; 6</text><text class="n" x="165.3" y="65">4,832 rows</text></g>
<g id="DemandEnergyEfficiencyMeasuresCostData" transform="translate(820.8 6258.2)"><rect class="h" width="299.9" height="24"/><rect class="r" y="24" width="299.9" height="24"/><rect class="f" y="48" width="299.9" height="24"/><path class="d" d="M129 48v24M231.9 48v24"/><text class="c" x="150" y="16.5">DemandEnergyEfficiencyMeasuresCostData</text><text x="4" y="41">...</text><text x="4" y="65">&lt; 4</text><text class="n" x="226.9" y="65">2 rows</text></g>
<g id="DemandDriversData" transform="translate(507.9 6358.4)"><rect class="h" width="142.7" height="24"/><rect class="r" y="24" width="142.7" height="24"/><rect class="f" y="48" width="142.7" height="24"/><path class="d" d="M31.8 48v24M122.4 48v24"/><text class="c" x="71.4" y="16.5">DemandDriversData</text><text x="4" y="41">...</text><text x="4" y="65">&lt; 4</text><text class="n" x="117.4" y="65">27,596 rows</text></g>
<g id="SupplyExportData" transform="translate(516.6 6650.5)"><rect class="h" width="124.6" height="24"/><rect class="r" y="24" width="124.6" height="24"/><rect class="f" y="48" width="124.6" height="24"/><path class="d" d="M32.6 48v24M104.3 48v24"/><text class="c" x="62.3" y="16.5">SupplyExportData</text><text x="4" y="41">...</text><text x="4" y="65">&lt; 3</text><text class="n" x="99.3" y="65">340 rows</text></g>
</g>
<text x="16" y="6856">Generated by SchemaSpy</text>
</svg>
